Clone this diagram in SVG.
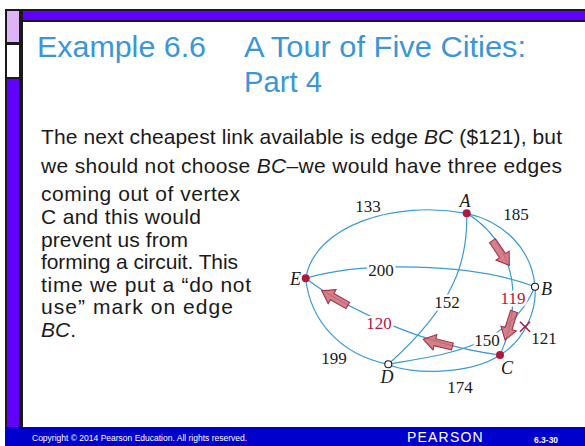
<svg xmlns="http://www.w3.org/2000/svg" width="585" height="446" viewBox="0 0 585 446">
<defs>
<style>
.title{font-family:"Liberation Sans",Arial,sans-serif;font-size:29px;fill:#3a96d8}
.body{font-family:"Liberation Sans",Arial,sans-serif;font-size:21px;fill:#1a1a1a}
.it{font-style:italic}
.edge{fill:none;stroke:#3a9ad3;stroke-width:1.2}
.w{font-family:"Liberation Serif","Times New Roman",serif;font-size:17px;fill:#1a1a1a;stroke:#fff;stroke-width:5;paint-order:stroke;stroke-linejoin:round}
.wr{fill:#b3173f}
.nl{font-family:"Liberation Serif","Times New Roman",serif;font-size:18px;font-style:italic;fill:#1a1a1a}
.dot{fill:#b3173f}
.open{fill:#fff;stroke:#1a1a1a;stroke-width:1.1}
.arr{fill:#cf6876;fill-opacity:0.85;stroke:#a02d3c;stroke-width:1}
.foot{font-family:"Liberation Sans",Arial,sans-serif;fill:#fff}
</style>
<polygon id="ar" points="0,0 -12,-8 -12,-3.6 -30,-3.6 -30,3.6 -12,3.6 -12,8"/>
</defs>
<rect x="0" y="0" width="585" height="446" fill="#fff"/>
<!-- frame -->
<g id="frame">
<rect x="5" y="9" width="580" height="418" fill="#1a1a1a"/>
<rect x="23" y="11" width="562" height="9" fill="#6000ff"/>
<rect x="23" y="22" width="562" height="405" fill="#fff"/>
<rect x="7" y="11" width="12" height="31" fill="#ddb4f6"/>
<rect x="7" y="45" width="12" height="32" fill="#fff"/>
<rect x="7" y="79" width="12" height="348" fill="#6000ff"/>
<rect x="5" y="427" width="580" height="19" fill="#0000cc"/>
</g>
<g id="title">
<text class="title" x="37" y="57" textLength="169" lengthAdjust="spacingAndGlyphs">Example 6.6</text>
<text class="title" x="244" y="57" textLength="282" lengthAdjust="spacingAndGlyphs">A Tour of Five Cities:</text>
<text class="title" x="244" y="92" textLength="78" lengthAdjust="spacingAndGlyphs">Part 4</text>
</g>
<g id="body">
<text class="body" x="41" y="144" textLength="521" lengthAdjust="spacing">The next cheapest link available is edge <tspan class="it">BC</tspan> ($121), but</text>
<text class="body" x="41" y="173" textLength="521" lengthAdjust="spacing">we should not choose <tspan class="it">BC</tspan>–we would have three edges</text>
<text class="body" x="41" y="201" textLength="199" lengthAdjust="spacing">coming out of vertex</text>
<text class="body" x="41" y="224" textLength="160" lengthAdjust="spacing">C and this would</text>
<text class="body" x="41" y="246.5" textLength="147" lengthAdjust="spacing">prevent us from</text>
<text class="body" x="41" y="269" textLength="197" lengthAdjust="spacing">forming a circuit. This</text>
<text class="body" x="41" y="292" textLength="210" lengthAdjust="spacing">time we put a “do not</text>
<text class="body" x="41" y="314" textLength="192" lengthAdjust="spacing">use” mark on edge</text>
<text class="body" x="41" y="337"><tspan class="it">BC</tspan>.</text>
</g>
<g id="connectors">
<path class="edge" d="M305.7,278.3 C315,225 395,200 466.7,213.3"/>
<path class="edge" d="M466.7,213.3 C505,222 532,250 535,286.7"/>
<path class="edge" d="M535,286.7 C537,310 525,340 500,355"/>
<path class="edge" d="M535,286.7 C508,350 440,355 388.3,364.3"/>
<path class="edge" d="M466.7,213.3 C498,232 514,265 513,300 C512,325 506,342 500,355"/>
<path class="edge" d="M466.7,213.3 C468,260 455,305 388.3,364.3"/>
<path class="edge" d="M305.7,278.3 C310,320 340,355 388.3,364.3"/>
<path class="edge" d="M305.7,278.3 C360,262 470,262 535,286.7"/>
<path class="edge" d="M305.7,278.3 C340,305 420,345 500,355"/>
<path class="edge" d="M388.3,364.3 C410,375 470,375 500,355"/>
<path d="M520,321.7 L530,331.7 M530,321.7 L520,331.7" stroke="#b3173f" stroke-width="1.6" fill="none"/>
</g>
<g id="weights">
<text class="w" x="368" y="212" text-anchor="middle">133</text>
<text class="w" x="516" y="220" text-anchor="middle">185</text>
<text class="w" x="381" y="276" text-anchor="middle">200</text>
<text class="w" x="447" y="308" text-anchor="middle">152</text>
<text class="w wr" x="513" y="304" text-anchor="middle">119</text>
<text class="w wr" x="379" y="329" text-anchor="middle">120</text>
<text class="w" x="487" y="346" text-anchor="middle">150</text>
<text class="w" x="544" y="344" text-anchor="middle">121</text>
<text class="w" x="334" y="364" text-anchor="middle">199</text>
<text class="w" x="460" y="393" text-anchor="middle">174</text>
</g>
<g id="arrows">
<use href="#ar" class="arr" transform="translate(321.7,290.7) rotate(209.5)"/>
<use href="#ar" class="arr" transform="translate(423.3,339.3) rotate(193.9)"/>
<use href="#ar" class="arr" transform="translate(509.3,265.5) rotate(55.8)"/>
<use href="#ar" class="arr" transform="translate(505,340) rotate(107.5)"/>
</g>
<g id="node-A"><circle class="dot" cx="466.7" cy="213.3" r="4"/><text class="nl" x="465" y="207" text-anchor="middle">A</text></g>
<g id="node-B"><circle class="open" cx="535" cy="286.7" r="3.5"/><text class="nl" x="541" y="295">B</text></g>
<g id="node-C"><circle class="dot" cx="500" cy="355" r="4"/><text class="nl" x="507" y="374" text-anchor="middle">C</text></g>
<g id="node-D"><circle class="open" cx="388.3" cy="364.3" r="3.5"/><text class="nl" x="387" y="383" text-anchor="middle">D</text></g>
<g id="node-E"><circle class="dot" cx="305.7" cy="278.3" r="4"/><text class="nl" x="301" y="285" text-anchor="end">E</text></g>
<g id="footer">
<text class="foot" x="32" y="441" font-size="8.5">Copyright © 2014  Pearson Education. All rights reserved.</text>
<text class="foot" x="407" y="442" font-size="14" letter-spacing="1.2">PEARSON</text>
<text class="foot" x="534" y="443" font-size="8.5" font-weight="bold">6.3-30</text>
</g>
</svg>
